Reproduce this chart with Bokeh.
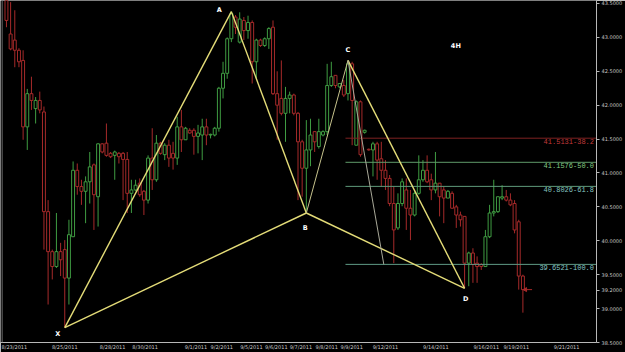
import numpy as np
from bokeh.plotting import figure
from bokeh.models import Range1d, FixedTicker, Span, Label, ColumnDataSource, NumeralTickFormatter
from bokeh.embed import file_html
from bokeh.resources import INLINE
from bokeh.core.properties import value

# ---- 4H candles ----
opens = [43.62, 43.05, 42.96, 42.81, 42.66, 41.68, 42.17, 41.95, 42.07, 41.90,
         40.43, 39.84, 39.62, 39.84, 39.87, 39.45, 40.06, 41.04, 40.80, 40.73,
         40.87, 41.12, 40.65, 41.43, 41.44, 41.29, 41.26, 41.29, 41.29, 41.20,
         40.70, 40.75, 40.85, 40.73, 40.60, 41.22, 40.90, 41.44, 41.27, 41.41,
         41.29, 41.22, 41.68, 41.49, 41.63, 41.63, 41.54, 41.56, 41.68, 41.56,
         41.56, 41.66, 42.25, 42.47, 42.98, 43.30, 42.93, 43.25, 43.10, 43.22,
         42.64, 42.96, 42.88, 42.98, 43.15, 42.17, 42.10, 41.88, 42.10, 42.15,
         41.88, 41.46, 41.07, 41.34, 41.61, 41.39, 41.56, 41.61, 42.29, 42.44,
         42.27, 42.29, 42.17, 42.61, 41.41, 42.05, 41.60, 41.35, 41.34, 41.43,
         41.21, 41.04, 40.92, 40.55, 40.19, 40.55, 40.75, 40.48, 40.38, 40.70,
         40.90, 41.04, 40.90, 40.75, 40.85, 40.75, 40.63, 40.70, 40.50, 40.38,
         40.36, 39.67, 39.82, 39.67, 39.65, 39.62, 40.06, 40.41, 40.43, 40.63,
         40.65, 40.60, 40.55, 40.28, 39.48]
highs = [43.70, 43.52, 43.40, 42.84, 42.81, 42.24, 42.42, 42.12, 42.20, 41.98,
         40.60, 39.87, 40.41, 39.97, 40.01, 40.31, 41.17, 41.14, 40.90, 40.95,
         41.31, 41.14, 41.44, 41.44, 41.73, 41.31, 41.33, 41.31, 41.31, 41.31,
         40.90, 40.90, 40.92, 40.75, 41.26, 41.66, 41.56, 41.46, 41.44, 41.49,
         41.46, 41.83, 41.93, 41.68, 41.66, 41.66, 41.71, 41.80, 41.80, 41.58,
         41.68, 42.27, 42.64, 43.00, 43.38, 43.33, 43.37, 43.30, 43.32, 43.25,
         42.98, 42.98, 43.00, 43.15, 43.25, 42.50, 42.66, 42.27, 42.20, 42.17,
         41.90, 41.49, 41.78, 41.80, 41.61, 41.80, 41.63, 42.61, 42.64, 42.44,
         42.32, 42.37, 42.66, 42.64, 42.07, 42.07, 41.64, 41.36, 41.46, 41.46,
         41.46, 41.19, 40.97, 40.80, 40.70, 40.92, 40.92, 40.75, 40.73, 41.26,
         41.19, 41.26, 40.99, 41.31, 40.85, 40.80, 40.75, 40.73, 40.53, 40.43,
         40.36, 39.84, 39.89, 39.77, 39.67, 40.16, 40.53, 40.90, 40.65, 40.82,
         40.75, 40.70, 40.60, 40.31, 39.50]
lows = [43.15, 42.81, 42.56, 42.56, 41.49, 41.34, 41.93, 41.73, 41.88, 39.87,
        39.06, 39.43, 39.60, 39.48, 38.72, 39.06, 40.06, 40.68, 40.53, 40.26,
        40.55, 40.16, 40.21, 41.29, 41.24, 41.22, 40.90, 41.14, 40.60, 40.41,
        40.41, 40.73, 40.65, 40.38, 40.55, 40.75, 40.87, 41.27, 41.19, 41.09,
        41.05, 41.12, 41.31, 41.49, 41.58, 41.27, 41.29, 41.19, 41.41, 41.51,
        41.54, 41.61, 42.10, 42.39, 42.93, 43.05, 42.91, 42.96, 42.98, 42.32,
        42.39, 42.86, 42.86, 42.83, 42.15, 41.49, 41.85, 41.46, 41.88, 41.85,
        40.60, 40.65, 40.41, 41.10, 41.31, 41.36, 41.54, 41.56, 42.27, 42.25,
        42.25, 42.12, 42.07, 41.41, 41.41, 41.24, 41.58, 41.33, 40.95, 40.90,
        40.80, 40.75, 40.51, 39.67, 40.16, 40.51, 40.16, 40.01, 40.36, 40.68,
        40.87, 40.85, 40.60, 40.70, 40.36, 40.26, 40.63, 40.48, 40.19, 40.21,
        39.30, 39.33, 39.38, 39.38, 39.57, 39.62, 40.04, 40.36, 40.41, 40.60,
        40.58, 40.51, 40.11, 39.28, 38.94]
closes = [43.25, 42.83, 42.81, 42.64, 41.68, 42.17, 42.07, 42.07, 41.93, 40.43,
          39.84, 39.62, 39.84, 39.72, 39.45, 40.09, 41.04, 40.80, 40.73, 40.87,
          41.09, 40.68, 41.43, 41.31, 41.26, 41.24, 41.31, 41.24, 41.20, 40.70,
          40.75, 40.82, 40.68, 40.60, 41.22, 40.90, 41.44, 41.29, 41.41, 41.22,
          41.22, 41.68, 41.49, 41.66, 41.59, 41.54, 41.59, 41.68, 41.56, 41.57,
          41.66, 42.25, 42.47, 42.98, 43.35, 43.15, 43.27, 43.10, 43.22, 42.64,
          42.96, 42.88, 42.98, 43.13, 42.17, 42.00, 41.88, 42.10, 42.15, 41.88,
          41.46, 41.07, 41.34, 41.56, 41.46, 41.61, 41.61, 42.29, 42.42, 42.29,
          42.32, 42.15, 42.61, 42.07, 42.05, 41.27, 41.63, 41.34, 41.43, 41.19,
          41.04, 40.92, 40.55, 40.16, 40.55, 40.87, 40.48, 40.38, 40.70, 40.90,
          41.04, 40.87, 40.75, 40.85, 40.65, 40.63, 40.73, 40.48, 40.38, 40.31,
          39.67, 39.82, 39.65, 39.62, 39.62, 40.06, 40.41, 40.43, 40.65, 40.65,
          40.60, 40.53, 40.16, 39.48, 39.28]

# ---- harmonic pattern points (candle index, price) ----
pat_names = ["X", "A", "B", "C", "D"]
pat_idx = [14, 54, 72, 82, 110]
pat_price = [38.72, 43.38, 40.41, 42.66, 39.30]
proj_idx = [82, 90.6]
proj_price = [42.66, 39.6521]

# ---- fibonacci levels ----
levels = [41.5131, 41.1576, 40.8026, 39.6521]
level_text = ["41.5131-38.2", "41.1576-50.0", "40.8026-61.8", "39.6521-100.0"]
level_line_colors = ["#7e2222", "#5f9a6a", "#5f9a7a", "#5f9a86"]
level_text_colors = ["#c23a3a", "#86cc86", "#86c6c2", "#86c6c6"]

# ---- axes ----
price_ticks = [38.5, 39.0, 39.5, 40.0, 40.5, 41.0, 41.5, 42.0, 42.5, 43.0, 43.5]
date_labels = ["8/23/2011", "8/25/2011", "8/28/2011", "8/30/2011", "9/1/2011", "9/2/2011",
               "9/5/2011", "9/6/2011", "9/7/2011", "9/8/2011", "9/9/2011", "9/12/2011",
               "9/14/2011", "9/16/2011", "9/19/2011", "9/21/2011"]
date_tick_pos = [1.9, 14.0, 25.5, 33.3, 45.5, 51.7, 58.8, 64.8, 70.7, 76.9, 82.9,
                 91.0, 103.1, 115.2, 122.4, 134.5]
last_price_pos = 39.27
last_label = "39.2000"

GREEN = "#3f9c42"
RED = "#a62a2a"
YEL = "#e4dc78"

n = len(opens)
idx = np.arange(n)
o = np.array(opens); c = np.array(closes)
up = c >= o
src = ColumnDataSource(dict(
    x=idx, hi=highs, lo=lows,
    top=np.maximum(o, c), bot=np.minimum(o, c),
    col=[GREEN if u else RED for u in up]))

x0, x1 = -1.43, 141.67
p = figure(width=625, height=352, x_range=Range1d(x0, x1), y_range=Range1d(38.5, 43.544),
           output_backend="svg", toolbar_location=None, y_axis_location="right",
           min_border_left=0, min_border_top=0, min_border_right=24, min_border_bottom=9,
           background_fill_color="black", border_fill_color="black", outline_line_color=None)
p.grid.visible = False

ya = p.yaxis[0]
ya.ticker = FixedTicker(ticks=price_ticks + [last_price_pos])
ya.formatter = NumeralTickFormatter(format="0.0000")
ya.major_label_overrides = {last_price_pos: last_label}
ya.major_label_text_font_size = "5px"
ya.major_label_text_color = "#c8c8c8"
ya.major_label_text_font = "DejaVu Sans"
ya.axis_line_color = "#b8b8b8"
ya.major_tick_line_color = "#b8b8b8"
ya.major_tick_out = 3
ya.major_tick_in = 0
ya.minor_tick_line_color = None
ya.major_label_standoff = 2

xa = p.xaxis[0]
xa.ticker = FixedTicker(ticks=date_tick_pos)
xa.major_label_overrides = {t: l for t, l in zip(date_tick_pos, date_labels)}
xa.major_label_text_font_size = "5px"
xa.major_label_text_color = "#c8c8c8"
xa.major_label_text_font = "DejaVu Sans"
xa.major_tick_line_color = None
xa.major_tick_out = 0
xa.major_tick_in = 0
xa.minor_tick_out = 0
xa.minor_tick_in = 0
xa.minor_tick_line_color = None
xa.axis_line_color = "#b8b8b8"
xa.major_label_standoff = 1

p.add_layout(Span(location=x0 + 0.4, dimension="height", line_color="#6a6a6a", line_width=1))

# candles (hollow bodies)
p.segment(x0="x", y0="lo", x1="x", y1="hi", line_color="col", line_width=1, source=src)
p.vbar(x="x", top="top", bottom="bot", width=0.7, fill_color="black",
       line_color="col", line_width=1, source=src)

# fib levels
lv = ColumnDataSource(dict(x0=[pat_idx[3] - 0.6] * 4, x1=[x1] * 4, y=levels,
                           lc=level_line_colors, tc=level_text_colors, t=level_text,
                           tx=[x1 - 0.6] * 4))
p.segment(x0="x0", y0="y", x1="x1", y1="y", line_color="lc", line_width=1, source=lv)
p.text(x="tx", y="y", text="t", text_color="tc", text_align="right", text_baseline="top",
       y_offset=1, text_font=value("Liberation Mono"), text_font_size="7px", source=lv)

# pattern lines
pairs = [(0, 1), (1, 2), (0, 2), (3, 4), (2, 4)]
p.segment(x0=[pat_idx[a] for a, b in pairs], y0=[pat_price[a] for a, b in pairs],
          x1=[pat_idx[b] for a, b in pairs], y1=[pat_price[b] for a, b in pairs],
          line_color=YEL, line_width=1.4)
p.line(x=[pat_idx[2], pat_idx[3]], y=[pat_price[2], pat_price[3]], line_color="#c6c28c", line_width=1)
p.line(x=proj_idx, y=proj_price, line_color="#a8a898", line_width=1)

# point labels
p.text(x=pat_idx, y=pat_price, text=pat_names, x_offset=[-7, -12, -1, 0, 1],
       y_offset=[6, -2, 15, -10, 11], text_color="white", text_font_style="bold",
       text_font=value("DejaVu Sans"), text_font_size="6.5px",
       text_align="center", text_baseline="middle")
p.add_layout(Label(x=107.9, y=42.88, text="4H", text_color="white", text_font_style="bold",
                   text_font="DejaVu Sans", text_font_size="6.5px",
                   text_align="center", text_baseline="middle"))

# last price arrow
p.segment(x0=[n - 0.6], y0=[closes[-1]], x1=[n + 1.2], y1=[closes[-1]], line_color=RED, line_width=1)
p.scatter(x=[n - 0.4], y=[closes[-1]], marker="triangle", angle=np.pi / 2, size=4,
          fill_color=RED, line_color=RED)

open("out.html", "w").write(file_html(p, INLINE))
